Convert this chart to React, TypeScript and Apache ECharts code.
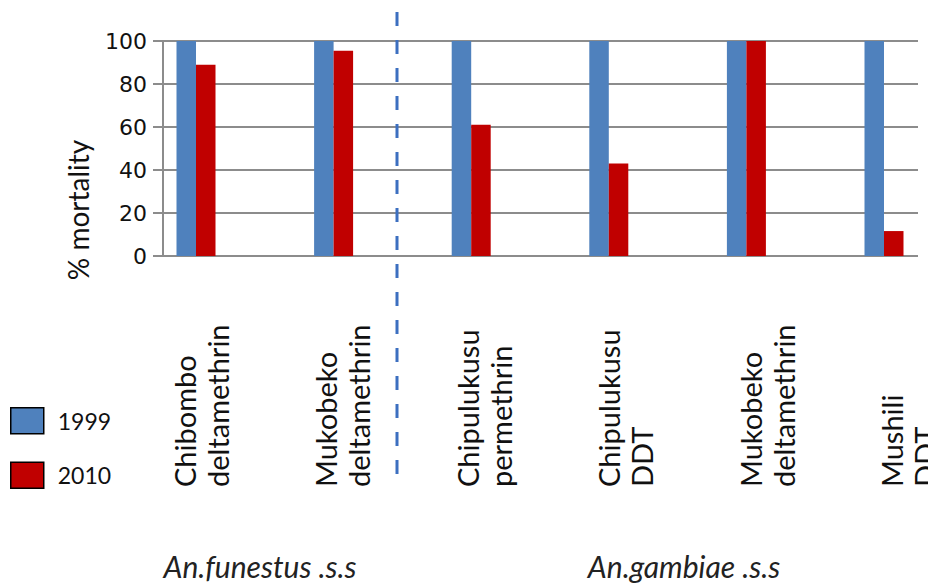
import React, { useEffect, useRef } from "react";
import * as echarts from "echarts";

const categories = [
  "Chibombo\ndeltamethrin",
  "Mukobeko\ndeltamethrin",
  "Chipulukusu\npermethrin",
  "Chipulukusu\nDDT",
  "Mukobeko\ndeltamethrin",
  "Mushili\nDDT",
];
const series1999 = [100, 100, 100, 100, 100, 100];
const series2010 = [89, 95.5, 61, 43, 100, 11.6];
const seriesNames = ["1999", "2010"];
const yTicks = { min: 0, max: 100, interval: 20 };
const yAxisTitle = "% mortality";
const groupLabels = ["An.funestus .s.s", "An.gambiae .s.s"];

const BLUE = "#4f81bd";
const RED = "#c00000";
const GRID_GRAY = "#8c8c8c";

export default function App() {
  const ref = useRef<HTMLDivElement>(null);
  useEffect(() => {
    if (!ref.current) return;
    const chart = echarts.init(ref.current, null, { renderer: "svg" });
    const top = 41;
    const bottom = 328;
    chart.setOption({
      animation: false,
      backgroundColor: "#ffffff",
      legend: {
        orient: "vertical",
        left: 10,
        top: 407,
        padding: 0,
        itemWidth: 33,
        itemHeight: 26,
        itemGap: 27,
        icon: "rect",
        itemStyle: { borderColor: "#000", borderWidth: 1.5 },
        textStyle: {
          fontFamily: "Lato",
          fontSize: 23,
          color: "#111",
          padding: [0, 0, 0, 9],
        },
        data: seriesNames,
      },
      grid: [
        { left: 163, right: 10, top, bottom, outerBoundsMode: "none" },
        { left: 196, right: 44, top, bottom, outerBoundsMode: "none" },
        { left: 201, right: 20, top, bottom, outerBoundsMode: "none" },
      ],
      xAxis: [
        {
          type: "category",
          gridIndex: 0,
          data: categories,
          axisLine: { show: false },
          axisTick: { show: false },
          axisLabel: { show: false },
        },
        {
          type: "category",
          gridIndex: 1,
          data: categories,
          boundaryGap: false,
          axisLine: { show: false },
          axisTick: { show: false },
          axisLabel: { show: false },
        },
        {
          type: "category",
          gridIndex: 2,
          data: categories,
          boundaryGap: false,
          axisLine: { show: false },
          axisTick: { show: false },
          axisLabel: {
            interval: 0,
            rotate: 90,
            align: "left",
            verticalAlign: "middle",
            margin: 231,
            fontFamily: "Lato",
            fontSize: 29,
            lineHeight: 33,
            color: "#111",
            showMinLabel: true,
            showMaxLabel: true,
          },
        },
      ],
      yAxis: [
        {
          type: "value",
          gridIndex: 0,
          min: yTicks.min,
          max: yTicks.max,
          interval: yTicks.interval,
          axisLine: { show: true, lineStyle: { color: GRID_GRAY, width: 2 } },
          axisTick: {
            show: true,
            inside: false,
            length: 10,
            lineStyle: { color: GRID_GRAY, width: 2 },
          },
          splitLine: { show: true, lineStyle: { color: GRID_GRAY, width: 2 } },
          axisLabel: {
            margin: 16,
            fontFamily: "DejaVu Sans",
            fontSize: 22,
            color: "#111",
          },
        },
        {
          type: "value",
          gridIndex: 1,
          min: yTicks.min,
          max: yTicks.max,
          show: false,
        },
        {
          type: "value",
          gridIndex: 2,
          min: yTicks.min,
          max: yTicks.max,
          show: false,
        },
      ],
      series: [
        {
          name: seriesNames[0],
          type: "bar",
          xAxisIndex: 1,
          yAxisIndex: 1,
          data: series1999,
          barWidth: 19.5,
          barGap: "0%",
          itemStyle: { color: BLUE },
        },
        {
          name: seriesNames[1],
          type: "bar",
          xAxisIndex: 1,
          yAxisIndex: 1,
          data: series2010,
          barWidth: 19.5,
          barGap: "0%",
          itemStyle: { color: RED },
        },
      ],
      graphic: [
        {
          type: "line",
          shape: { x1: 397, y1: 12, x2: 397, y2: 476 },
          style: { stroke: "#3c6fc0", lineWidth: 3, lineDash: [14, 14] },
          z: 100,
        },
        {
          type: "text",
          x: 78,
          y: 210,
          rotation: Math.PI / 2,
          style: {
            text: yAxisTitle,
            fontFamily: "Lato",
            fontSize: 28,
            fill: "#111",
            align: "center",
            verticalAlign: "middle",
          },
        },
        {
          type: "text",
          x: 260,
          y: 566,
          style: {
            text: groupLabels[0],
            fontFamily: "Lato",
            fontStyle: "italic",
            fontSize: 30,
            fill: "#222",
            align: "center",
            verticalAlign: "middle",
          },
        },
        {
          type: "text",
          x: 684,
          y: 566,
          style: {
            text: groupLabels[1],
            fontFamily: "Lato",
            fontStyle: "italic",
            fontSize: 30,
            fill: "#222",
            align: "center",
            verticalAlign: "middle",
          },
        },
      ],
    });
    return () => chart.dispose();
  }, []);
  return (
    <div
      ref={ref}
      style={{ position: "fixed", left: 0, top: 0, width: 928, height: 584 }}
    />
  );
}
